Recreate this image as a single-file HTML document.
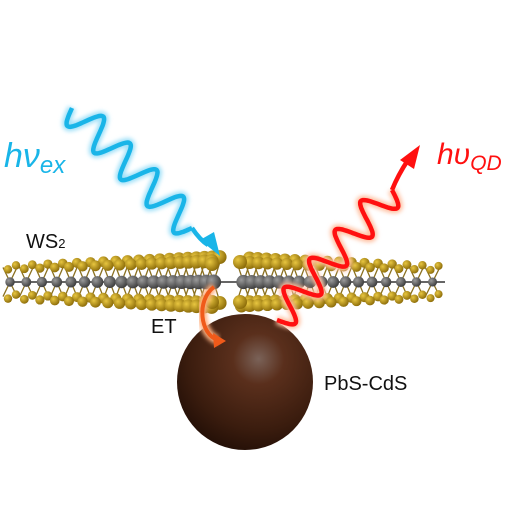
<!DOCTYPE html>
<html><head><meta charset="utf-8"><style>
html,body{margin:0;padding:0;background:#fff;width:510px;height:511px;overflow:hidden}
text{font-family:"Liberation Sans",sans-serif}
</style></head><body>
<svg id="s" width="510" height="511" viewBox="0 0 510 511" xmlns="http://www.w3.org/2000/svg">
<defs>
<radialGradient id="sph" cx="0.6" cy="0.33" r="0.75">
<stop offset="0" stop-color="#7a6258"/><stop offset="0.25" stop-color="#5a2f1c"/><stop offset="0.7" stop-color="#3a1c0e"/><stop offset="1" stop-color="#1e0c05"/></radialGradient>
<radialGradient id="au" cx="0.35" cy="0.35" r="0.7"><stop offset="0" stop-color="#e8c640"/><stop offset="1" stop-color="#8a6a08"/></radialGradient>
<radialGradient id="gr" cx="0.35" cy="0.35" r="0.7"><stop offset="0" stop-color="#9a9a9a"/><stop offset="1" stop-color="#3a3a3a"/></radialGradient>
<filter id="glow" x="-20%" y="-20%" width="140%" height="140%"><feGaussianBlur stdDeviation="2"/></filter>
</defs>
<g id="layer"></g>
<circle cx="245" cy="382" r="68" fill="url(#sph)"/>
<g id="waves"></g>
<g>
<path d="M214,287 C196,300 200,335 218,340" fill="none" stroke="#ffb080" stroke-width="9" filter="url(#glow)"/>
<path d="M214,287 C196,300 200,335 218,340" fill="none" stroke="#f05a1a" stroke-width="4"/>
<polygon points="213,333 226,341 214,348" fill="#f05a1a"/>
</g>
<text x="4" y="167" font-size="34" font-style="italic" fill="#19b5e8" font-family="Liberation Serif,serif">hν<tspan font-size="24" dy="6">ex</tspan></text>
<text x="437" y="164" font-size="30" font-style="italic" fill="#ff1010" font-family="Liberation Serif,serif">hυ<tspan font-size="21" dy="6">QD</tspan></text>
<text x="26" y="248" font-size="20" fill="#111">WS<tspan font-size="13">2</tspan></text>
<text x="151" y="333" font-size="20" fill="#111">ET</text>
<text x="324" y="390" font-size="20" fill="#111">PbS-CdS</text>
</svg>
<script>
const NS="http://www.w3.org/2000/svg";
const L=document.getElementById('layer');
function c(x,y,r,f){const e=document.createElementNS(NS,'circle');e.setAttribute('cx',x);e.setAttribute('cy',y);e.setAttribute('r',r);e.setAttribute('fill',f);


L.appendChild(e);}
function ln(x1,y1,x2,y2,col,w){const e=document.createElementNS(NS,'line');e.setAttribute('x1',x1);e.setAttribute('y1',y1);e.setAttribute('x2',x2);e.setAttribute('y2',y2);e.setAttribute('stroke',col);e.setAttribute('stroke-width',w);L.appendChild(e);}
function tt(x){return Math.max(0,1-Math.abs(x-215)/220);}
const xs=[];
for(let x=10;x<445;){ xs.push(x); const t=tt(x); x+=17-10*t; }
ln(8,282,445,282,'#666',2);
xs.forEach(x=>{ if(x>220&&x<240)return; const t=tt(x),dy=14+8*t;
 ln(x,282,x+7,282-dy,'#8a7020',1.3);ln(x,282,x+7,282+dy,'#8a7020',1.3);ln(x,282,x-7,282-dy,'#8a7020',1.3);ln(x,282,x-7,282+dy,'#8a7020',1.3);});
xs.forEach(x=>{ if(x>216&&x<242)return; const t=tt(x),dy=14+9*t,r=4+3*t;
 c(x+6,282-dy-2,r,'url(#au)');c(x-2,282-dy+2,r,'url(#au)');c(x+6,282+dy-2,r,'url(#au)');c(x-2,282+dy+2,r,'url(#au)');});
xs.forEach(x=>{ if(x>220&&x<238)return; const t=tt(x); c(x,282,4.5+3*t,'url(#gr)');});
c(212,264,7,'url(#au)');c(240,262,7,'url(#au)');c(212,302,7,'url(#au)');c(240,302,7,'url(#au)');
const W=document.getElementById('waves');
function wave(x0,y0,x1,y1,amp,periods,col,glow,name){
 const dx=x1-x0,dy=y1-y0,len=Math.hypot(dx,dy),ux=dx/len,uy=dy/len,nx=-uy,ny=ux;let d='';
 for(let i=0;i<=200;i++){const s=i/200,a=amp*Math.sin(s*periods*2*Math.PI);d+=(i?'L':'M')+(x0+dx*s+nx*a).toFixed(1)+','+(y0+dy*s+ny*a).toFixed(1);}
 const g=document.createElementNS(NS,'g');
 
 
 g.innerHTML=`<path d="${d}" fill="none" stroke="${glow}" stroke-width="9" filter="url(#glow)"/><path d="${d}" fill="none" stroke="${col}" stroke-width="4.5"/>`;
 W.appendChild(g);return g;}
const b=wave(72,108,192,228,16,4.5,'#19b5e8','#9fe0f8','excitation-wave');
b.innerHTML+=`<path d="M192,228 Q200,240 208,245" fill="none" stroke="#19b5e8" stroke-width="4.5"/><polygon points="200,240 220,256 214,232" fill="#19b5e8"/>`;
const r=wave(277,320,392,190,16,4.5,'#ff1010','#ffc0a0','emission-wave');
r.innerHTML+=`<path d="M392,190 Q398,175 408,160" fill="none" stroke="#ff1010" stroke-width="4.5"/><polygon points="400,160 420,145 414,169" fill="#ff1010"/>`;
</script>
</body></html>
